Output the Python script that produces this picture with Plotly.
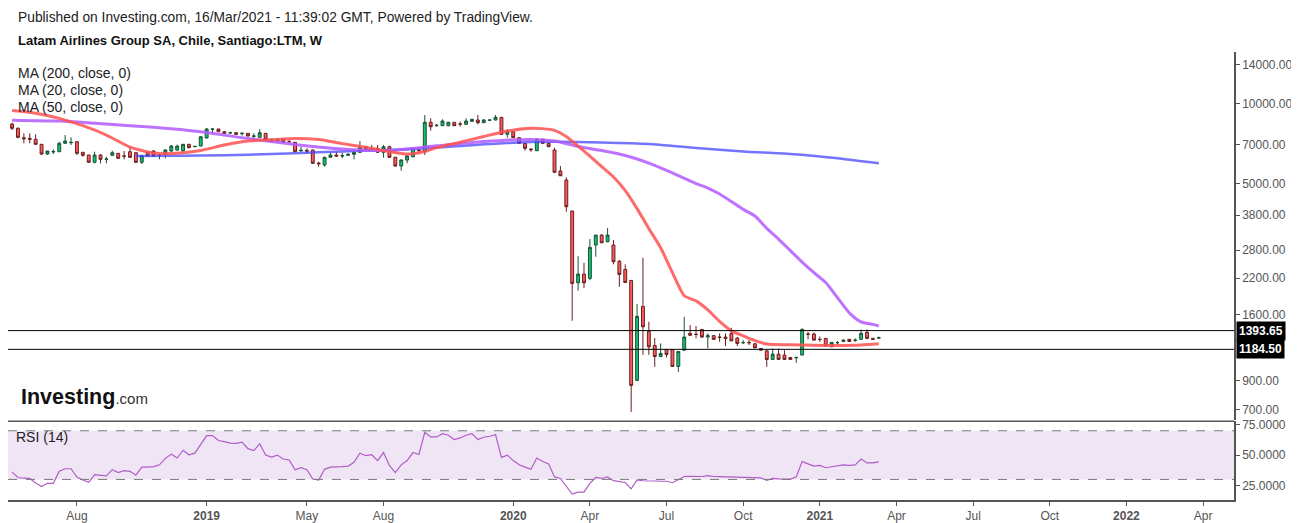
import math
import plotly.graph_objects as go
import pandas as pd

# ---------------- data ----------------
dates = pd.date_range("2018-05-21", periods=148, freq="7D")

opens = [8383, 8075, 7442, 7404, 7340, 7028, 6459, 6573, 6590, 7088,
         7126, 7188, 6556, 6404, 6010, 6404, 6169, 6387, 6499, 6348,
         6590, 6533, 6010, 6556, 6630, 6387, 6443, 6630, 6688, 6647,
         7028, 6882, 6924, 7423, 8005, 8026, 7840, 7752, 7772, 7705,
         7732, 7533, 7468, 7730, 7340, 7213, 7359, 7188, 7150, 6647,
         6670, 6688, 5973, 5871, 6277, 6404, 6348, 6387, 6443, 6556,
         6846, 6729, 6787, 6556, 6882, 6277, 5820, 6131, 6310, 6688,
         6590, 8508, 8260, 8260, 8260, 8508, 8383, 8361, 8582, 8679,
         8478, 8656, 8679, 8886, 7665, 7840, 7442, 7088, 6746, 6647,
         7340, 7088, 6688, 5572, 5153, 3937, 2111, 2277, 2193, 2930,
         3195, 3015, 2930, 2543, 2372, 2155, 904, 1719, 1384, 1225,
         1113, 1183, 1183, 1021, 1176, 1361, 1350, 1408, 1318, 1334,
         1318, 1318, 1361, 1306, 1254, 1258, 1243, 1194, 1169, 1085,
         1136, 1127, 1104, 1100, 1127, 1353, 1353, 1292, 1303, 1211,
         1254, 1268, 1292, 1280, 1292, 1372, 1303, 1306]
highs = [8478, 8146, 7732, 7732, 7665, 7046, 6640, 6729, 7188, 7619,
         7468, 7200, 6573, 6410, 6590, 6459, 6310, 6647, 6516, 6630,
         6924, 6573, 6404, 6573, 6688, 6499, 6729, 6985, 7004, 7046,
         7046, 6924, 7520, 8096, 8075, 8047, 7888, 7840, 7820, 7800,
         7752, 7732, 8005, 7752, 7359, 7378, 7378, 7300, 7169, 6882,
         6787, 6700, 6042, 6310, 6533, 6590, 6533, 6499, 6573, 7232,
         6924, 6985, 6985, 6985, 6943, 6310, 6169, 6404, 6805, 6787,
         9062, 8810, 8383, 8732, 8530, 8530, 8552, 8810, 8755, 9062,
         8755, 8732, 9062, 8909, 8005, 7888, 7488, 7107, 6787, 7404,
         7359, 7150, 6823, 5820, 5280, 3950, 2662, 2512, 3086, 3200,
         3223, 3396, 3060, 2572, 2478, 2161, 1754, 2624, 1505, 1306,
         1247, 1186, 1186, 1166, 1571, 1462, 1450, 1412, 1361, 1341,
         1361, 1361, 1428, 1318, 1283, 1283, 1247, 1197, 1173, 1194,
         1194, 1176, 1107, 1110, 1421, 1379, 1372, 1324, 1306, 1262,
         1275, 1294, 1294, 1303, 1408, 1408, 1306, 1324]
lows = [7957, 7404, 7088, 7088, 6985, 6404, 6404, 6459, 6573, 7046,
        6985, 6404, 6310, 5973, 5958, 5958, 5958, 6348, 6185, 6169,
        6239, 5973, 5922, 6293, 6293, 6169, 6223, 6573, 6630, 6499,
        6805, 6864, 6906, 7404, 7730, 7820, 7685, 7685, 7639, 7573,
        7533, 7251, 7423, 7295, 7169, 7169, 7126, 7150, 6573, 6573,
        6499, 5922, 5784, 5784, 6260, 6293, 6223, 6348, 6169, 6533,
        6688, 6688, 6533, 6260, 6239, 5784, 5587, 5958, 6277, 6533,
        6404, 7909, 8188, 8238, 8217, 8238, 8188, 8310, 8552, 8361,
        8456, 8604, 8656, 7639, 7442, 7423, 7064, 6647, 6590, 6630,
        7046, 6864, 5488, 5335, 3913, 1518, 1970, 2016, 2161, 2647,
        2980, 2999, 2478, 2039, 2105, 688, 898.6, 1129, 1129, 1017,
        1107, 1104, 1017, 974, 1169, 1331, 1303, 1306, 1194, 1283,
        1264, 1218, 1272, 1218, 1240, 1229, 1197, 1173, 1017, 1083,
        1081, 1081, 1081, 1053, 1124, 1292, 1280, 1264, 1218, 1208,
        1240, 1262, 1264, 1264, 1287, 1294, 1287, 1298]
closes = [8075, 7468, 7378, 7340, 7028, 6459, 6630, 6601, 7088, 7232,
          7150, 6499, 6387, 6010, 6404, 6169, 6185, 6533, 6223, 6340,
          6277, 6010, 6365, 6348, 6348, 6404, 6688, 6924, 6924, 7028,
          6823, 6906, 7507, 8026, 8026, 7840, 7730, 7772, 7665, 7732,
          7553, 7553, 7772, 7340, 7188, 7359, 7150, 7185, 6590, 6670,
          6630, 5958, 5937, 6277, 6404, 6348, 6365, 6443, 6556, 6846,
          6729, 6746, 6556, 6882, 6277, 5820, 6131, 6348, 6787, 6670,
          8508, 8188, 8288, 8604, 8508, 8260, 8380, 8604, 8732, 8478,
          8679, 8679, 8886, 7665, 7840, 7442, 7088, 6787, 6706, 7340,
          7088, 6882, 5510, 5349, 4086, 2100, 2277, 2111, 2872, 3195,
          2989, 3195, 2534, 2270, 2118, 866, 1576, 1441, 1211, 1113,
          1143, 1133, 1021, 1163, 1318, 1338, 1348, 1318, 1334, 1292,
          1314, 1302, 1275, 1247, 1256, 1254, 1200, 1176, 1085, 1136,
          1085, 1085, 1085, 1104, 1408, 1350, 1283, 1290, 1221, 1258,
          1256, 1283, 1268, 1283, 1361, 1303, 1292, 1310]

# moving averages (candle index -> value)
ma20_idx = [0, 4, 8, 12, 16, 20, 24, 28, 32, 36, 40, 44, 48, 52, 56, 60, 64, 67, 70, 72,
            76, 80, 84, 88, 90, 92, 94, 96, 98, 100, 102, 104, 106, 108, 110, 112, 114, 116, 118, 120,
            122, 124, 126, 128, 132, 136, 140, 144, 147]
ma20_val = [9420, 9208, 8801, 8260, 7619, 6864, 6516, 6499, 6659, 6985, 7232, 7308, 7391, 7327, 7070, 6846, 6596, 6459, 6607, 6828,
            7157, 7520, 7888, 8075, 8054, 7930, 7527, 6918, 6337, 5784, 5289, 4700, 4021, 3380, 2862, 2305, 1886, 1804, 1669, 1510,
            1390, 1331, 1278, 1240, 1232, 1227, 1225, 1230, 1243]
ma50_idx = [0, 8, 16, 24, 32, 40, 48, 56, 64, 72, 80, 88, 92, 96, 100, 104, 108, 110, 112, 116,
            118, 120, 122, 124, 126, 128, 130, 132, 134, 136, 138, 140, 142, 144, 146, 147]
ma50_val = [8670, 8597, 8376, 8146, 7834, 7391, 7022, 6746, 6665, 6936, 7201, 7334, 7232, 6894, 6659, 6376, 5973, 5731, 5480, 4998,
            4807, 4563, 4275, 3995, 3769, 3387, 3086, 2793, 2528, 2306, 2115, 1854, 1626, 1503, 1471, 1449]
ma200_idx = [21, 28, 36, 44, 52, 60, 68, 76, 84, 92, 100, 108, 116, 124, 132, 140, 147]
ma200_val = [6348, 6365, 6387, 6459, 6556, 6659, 6746, 6924, 7107, 7182, 7144, 7052, 6805, 6602, 6465, 6228, 5958]

rsi = [36, 31.6, 31, 30.8, 27, 24.1, 26.8, 26.8, 36.7, 38.8,
       38.8, 31.9, 29.5, 27.6, 34, 33.5, 32.9, 38, 35.6, 37.2,
       36.7, 33.5, 40.1, 40.1, 40.5, 42, 47.3, 50.8, 47.6, 54,
       50.3, 51.6, 58.8, 66, 66, 62, 61, 59.9, 59.6, 60.7,
       55.3, 53.7, 59.3, 50, 48.4, 50, 46.8, 46, 38, 39.6,
       38, 30.3, 29.5, 38.3, 40.1, 40.1, 40.5, 41, 44.1, 51.6,
       49.5, 50.3, 45.5, 52.1, 41.5, 35.6, 42, 45.5, 52.1, 50.5,
       68.7, 64.9, 64.9, 67.6, 66.3, 62.8, 64.1, 66.3, 67.6, 62.8,
       64.7, 65.5, 66.8, 48.1, 50, 45.5, 42, 40.1, 38.3, 47.6,
       44.7, 42.8, 32.1, 30.8, 24.1, 18, 19.6, 19.6, 26.8, 31.6,
       30.8, 32.1, 29, 28.3, 27.5, 22.3, 29.7, 28.9, 28.5, 28.7,
       28.5, 28.5, 27.3, 29.7, 32.4, 32.5, 32.4, 32.4, 33.2, 32.4,
       32.3, 32.2, 32.1, 31.6, 32.1, 31.9, 31.6, 31.3, 29.2, 30.8,
       30.5, 30.3, 30.3, 32.1, 44.7, 42.8, 40.9, 41.5, 39.6, 40.4,
       41.2, 42, 41.5, 42, 46.8, 43.6, 43.6, 44.4]

hlines = [1393.65, 1184.50]
rsi_bands = [30, 70]

price_ticks = [700, 900, 1600, 2200, 2800, 3800, 5000, 7000, 10000, 14000]
rsi_ticks = [25, 50, 75]
x_tickvals = ["2018-08-06", "2019-01-07", "2019-05-06", "2019-08-05", "2020-01-06", "2020-04-06",
              "2020-07-06", "2020-10-05", "2021-01-04", "2021-04-05", "2021-07-05", "2021-10-04",
              "2022-01-03", "2022-04-04"]
x_ticktext = ["Aug", "<b>2019</b>", "May", "Aug", "<b>2020</b>", "Apr", "Jul", "Oct",
              "<b>2021</b>", "Apr", "Jul", "Oct", "<b>2022</b>", "Apr"]

# ---------------- figure ----------------
FONT = "Arial, Liberation Sans, sans-serif"
OFF = 8                      # page body margin of the browser
W, H = 1299 - OFF, 523 - OFF
ML, MR, MT, MB = 0, 65, 44, 23
plot_w = W - ML - MR
plot_h = H - MT - MB


def px_x(px):               # reference-pixel -> paper
    return (px - OFF - ML) / plot_w


def px_y(py):
    return (H - MB - (py - OFF)) / plot_h


fig = go.Figure()

fig.add_trace(go.Candlestick(
    x=dates, open=opens, high=highs, low=lows, close=closes,
    increasing=dict(fillcolor="#13bd72", line=dict(color="#1c5234", width=1)),
    decreasing=dict(fillcolor="#f85c5c", line=dict(color="#6b1e1e", width=1)),
    whiskerwidth=0, showlegend=False, hoverinfo="skip",
    xaxis="x", yaxis="y",
))

fig.add_trace(go.Scatter(
    x=[dates[i] for i in ma200_idx], y=ma200_val, mode="lines",
    line=dict(color="rgba(70,70,255,0.75)", width=2.5, shape="spline", smoothing=0.6),
    showlegend=False, hoverinfo="skip", xaxis="x", yaxis="y"))
fig.add_trace(go.Scatter(
    x=[dates[i] for i in ma50_idx], y=ma50_val, mode="lines",
    line=dict(color="rgba(178,90,255,0.85)", width=3, shape="spline", smoothing=0.6),
    showlegend=False, hoverinfo="skip", xaxis="x", yaxis="y"))
fig.add_trace(go.Scatter(
    x=[dates[i] for i in ma20_idx], y=ma20_val, mode="lines",
    line=dict(color="rgba(255,80,80,0.85)", width=3, shape="spline", smoothing=0.6),
    showlegend=False, hoverinfo="skip", xaxis="x", yaxis="y"))

fig.add_trace(go.Scatter(
    x=dates, y=rsi, mode="lines",
    line=dict(color="#b25cc6", width=1.2),
    showlegend=False, hoverinfo="skip", xaxis="x", yaxis="y2"))

shapes = []
shapes.append(dict(type="rect", xref="x domain", x0=0, x1=1, yref="y2", y0=rsi_bands[0], y1=rsi_bands[1],
                   fillcolor="rgba(210,180,225,0.35)", line=dict(width=0), layer="below"))
for b in rsi_bands:
    shapes.append(dict(type="line", xref="x domain", x0=0, x1=1, yref="y2", y0=b, y1=b,
                       line=dict(color="#7a7a7a", width=1, dash="dash")))
shapes.append(dict(type="line", xref="paper", x0=0, x1=1, yref="y2 domain", y0=1, y1=1,
                   line=dict(color="#555555", width=1.5)))
for hl in hlines:
    shapes.append(dict(type="line", xref="x domain", x0=0, x1=1, yref="y", y0=hl, y1=hl,
                       line=dict(color="#000000", width=1)))

annotations = []
for hl in hlines:
    annotations.append(dict(x=1, xref="paper", y=math.log10(hl), yref="y", xanchor="left", yanchor="middle",
                            xshift=2, text="<b>%.2f</b>" % hl, showarrow=False,
                            font=dict(family=FONT, size=12, color="white"),
                            bgcolor="#000000", borderpad=2))

annotations += [
    dict(x=px_x(16), y=px_y(17), xref="paper", yref="paper", xanchor="left", yanchor="middle",
         text="Published on Investing.com, 16/Mar/2021 - 11:39:02 GMT, Powered by TradingView.",
         showarrow=False, font=dict(family=FONT, size=13.8, color="#222222")),
    dict(x=px_x(16), y=px_y(40), xref="paper", yref="paper", xanchor="left", yanchor="middle",
         text="<b>Latam Airlines Group SA, Chile, Santiago:LTM, W</b>",
         showarrow=False, font=dict(family=FONT, size=13, color="#111111")),
    dict(x=px_x(16), y=px_y(73), xref="paper", yref="paper", xanchor="left", yanchor="middle",
         text="MA (200, close, 0)", showarrow=False, font=dict(family=FONT, size=14, color="#222222")),
    dict(x=px_x(16), y=px_y(90), xref="paper", yref="paper", xanchor="left", yanchor="middle",
         text="MA (20, close, 0)", showarrow=False, font=dict(family=FONT, size=14, color="#222222")),
    dict(x=px_x(16), y=px_y(107), xref="paper", yref="paper", xanchor="left", yanchor="middle",
         text="MA (50, close, 0)", showarrow=False, font=dict(family=FONT, size=14, color="#222222")),
    dict(x=px_x(14), y=px_y(437), xref="paper", yref="paper", xanchor="left", yanchor="middle",
         text="RSI (14)", showarrow=False, font=dict(family=FONT, size=14, color="#222222")),
    dict(x=px_x(19), y=px_y(397), xref="paper", yref="paper", xanchor="left", yanchor="middle",
         text="<b>Investing</b><span style='font-size:15px;color:#333333'>.com</span>", showarrow=False,
         font=dict(family=FONT, size=21.5, color="#111111")),
]

fig.update_layout(
    width=W, height=H,
    margin=dict(l=ML, r=MR, t=MT, b=MB),
    paper_bgcolor="white", plot_bgcolor="white",
    showlegend=False, boxgap=0.3,
    font=dict(family=FONT, size=12, color="#555555"),
    xaxis=dict(
        type="date", range=["2018-05-16 04:00", "2022-05-10 17:00"], anchor="y2",
        showgrid=False, zeroline=False, showline=True, linecolor="#555555", linewidth=1.5,
        ticks="outside", ticklen=4, tickcolor="#555555",
        tickvals=x_tickvals, ticktext=x_ticktext,
        tickfont=dict(family=FONT, size=12, color="#555555"),
        rangeslider=dict(visible=False),
    ),
    yaxis=dict(
        type="log", range=[2.806, 4.195], domain=[0.178, 1], anchor="x", side="right",
        showgrid=False, zeroline=False, showline=True, linecolor="#555555", linewidth=1.5,
        ticks="outside", ticklen=4, tickcolor="#555555",
        tickvals=price_ticks, ticktext=["%.2f" % v for v in price_ticks],
        tickfont=dict(family=FONT, size=12, color="#555555"),
    ),
    yaxis2=dict(
        range=[13.1, 77.9], domain=[0, 0.176], anchor="x", side="right",
        showgrid=False, zeroline=False, showline=True, linecolor="#555555", linewidth=1.5,
        ticks="outside", ticklen=4, tickcolor="#555555",
        tickvals=rsi_ticks, ticktext=["%.4f" % v for v in rsi_ticks],
        tickfont=dict(family=FONT, size=12, color="#555555"),
    ),
    shapes=shapes, annotations=annotations,
)

fig.write_html("out.html")
